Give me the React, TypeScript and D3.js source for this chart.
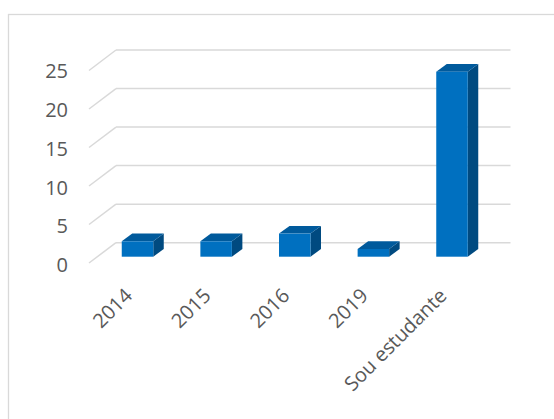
import React from "react";
import * as d3 from "d3";

const categories = ["2014", "2015", "2016", "2019", "Sou estudante"];
const values = [2, 2, 3, 1, 24];
const yTicks = [0, 5, 10, 15, 20, 25];

const W = 554;
const H = 419;
const FONT = "'Open Sans', sans-serif";

export default function App() {
  // back wall grid scale
  const yBack = d3.scaleLinear().domain([0, 25]).range([242.7, 50]);
  // front plane (diagonal ends)
  const yFront = d3.scaleLinear().domain([0, 25]).range([263, 70.5]);
  // bar front-face scale
  const yBar = d3.scaleLinear().domain([0, 25]).range([256.7, 64]);
  // tick label positions
  const yLabel = d3.scaleLinear().domain([0, 25]).range([265, 71]);

  const xBar = d3.scalePoint<string>().domain(categories).range([137.5, 452]);

  const backLeft = 116;
  const backRight = 510.5;
  const frontLeft = 89;
  const barW = 31.5;
  const depthX = 10.5;
  const depthY = -7.7;

  return (
    <svg
      width={W}
      height={H}
      style={{ position: "absolute", left: 0, top: 0, background: "#fff" }}
    >
      <rect x={8.5} y={14.5} width={700} height={600} fill="#fff" stroke="#d9d9d9" strokeWidth={1.3} />
      {yTicks.map((t) => (
        <g key={t}>
          <line x1={backLeft} x2={backRight} y1={yBack(t)} y2={yBack(t)} stroke="#d9d9d9" strokeWidth={1.5} />
          <line x1={frontLeft} x2={backLeft} y1={yFront(t)} y2={yBack(t)} stroke="#d9d9d9" strokeWidth={1.5} />
          <text
            x={68}
            y={yLabel(t)}
            dy="0.36em"
            textAnchor="end"
            fontFamily={FONT}
            fontSize={20}
            fill="#595959"
          >
            {t}
          </text>
        </g>
      ))}
      {categories.map((c, i) => {
        const x0 = (xBar(c) as number) - barW / 2;
        const x1 = x0 + barW;
        const yb = yBar(0);
        const yt = yBar(values[i]);
        return (
          <g key={c}>
            <polygon
              points={`${x1},${yb} ${x1 + depthX},${yb + depthY} ${x1 + depthX},${yt + depthY} ${x1},${yt}`}
              fill="#004a80"
            />
            <polygon
              points={`${x0},${yt} ${x0 + depthX},${yt + depthY} ${x1 + depthX},${yt + depthY} ${x1},${yt}`}
              fill="#005a9c"
            />
            <rect x={x0} y={yt} width={barW} height={yb - yt} fill="#0070c0" />
          </g>
        );
      })}
      {categories.map((c) => {
        const x = (xBar(c) as number) - 4;
        const y = 297;
        return (
          <text
            key={c}
            x={x}
            y={y}
            textAnchor="end"
            transform={`rotate(-45 ${x} ${y})`}
            fontFamily={FONT}
            fontSize={20}
            fill="#595959"
          >
            {c}
          </text>
        );
      })}
    </svg>
  );
}
